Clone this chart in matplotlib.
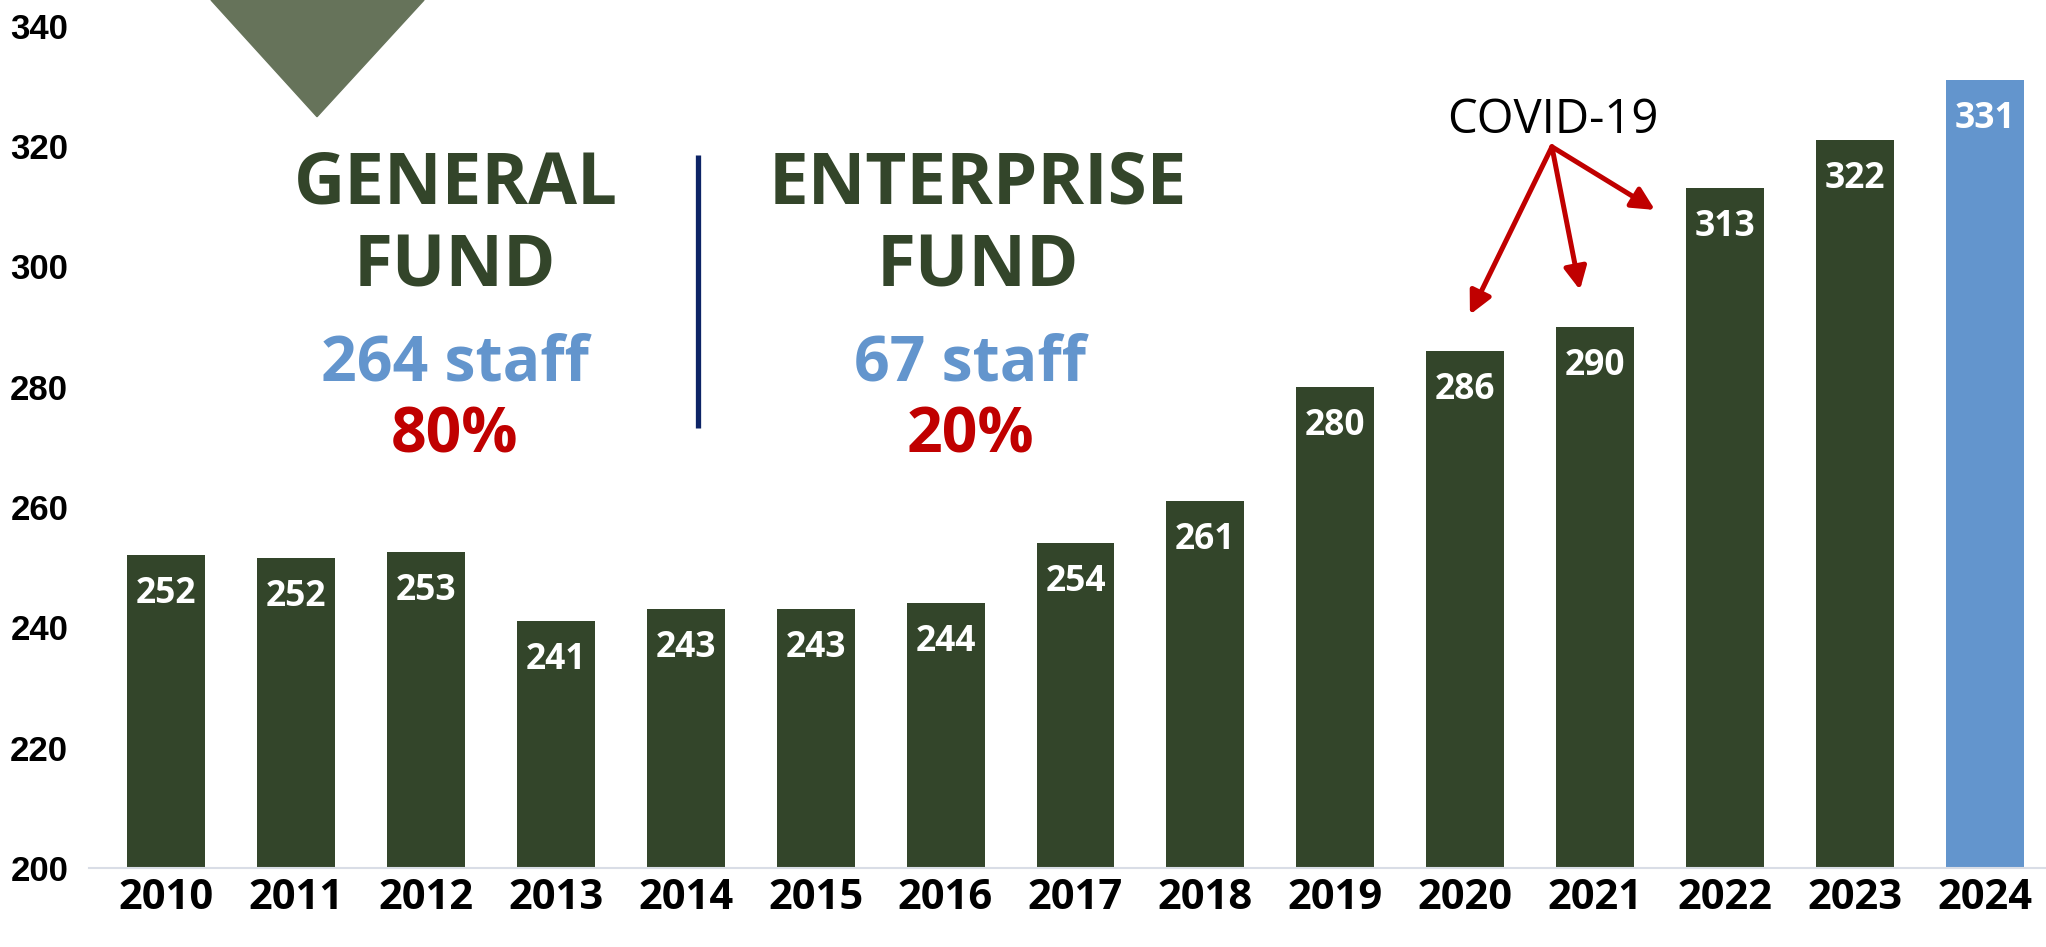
import matplotlib.pyplot as plt
from matplotlib.patches import Polygon

years = ['2010', '2011', '2012', '2013', '2014', '2015', '2016', '2017',
         '2018', '2019', '2020', '2021', '2022', '2023', '2024']
staff = [252, 251.5, 252.5, 241, 243, 243, 244, 254, 261, 280, 286, 290, 313, 321, 331]
labels = ['252', '252', '253', '241', '243', '243', '244', '254', '261',
          '280', '286', '290', '313', '322', '331']

green = '#33452a'
blue = '#6395cd'
red = '#c00000'

fig = plt.figure(figsize=(20.46, 9.47), dpi=100)
ax = fig.add_axes([0.0435, 0.0834, 0.9565, 0.9166])

x = list(range(len(years)))
colors = [green] * (len(years) - 1) + [blue]
ax.bar(x, [v - 200 for v in staff], bottom=200, width=0.6, color=colors)

for i, v in enumerate(staff):
    ax.annotate(labels[i], (i, v), xytext=(0, -48), textcoords='offset pixels',
                ha='center', va='baseline', color='white', fontsize=25.5,
                fontweight='bold', family=['Open Sans', 'DejaVu Sans'])

ax.set_xlim(-0.593, 14.47)
ax.set_ylim(200, 344.3)
ax.set_yticks([200, 220, 240, 260, 280, 300, 320, 340])
ax.set_xticks(x)
ax.set_xticklabels(years, fontsize=30, fontweight='bold', family=['Open Sans', 'DejaVu Sans'])
for t in ax.get_yticklabels():
    t.set_fontsize(25)
    t.set_fontweight('bold')
    t.set_family(['Liberation Sans', 'DejaVu Sans'])
ax.tick_params(axis='y', length=0, pad=15)
ax.tick_params(axis='x', length=0, pad=7)
for s in ['top', 'right', 'left']:
    ax.spines[s].set_visible(False)
ax.spines['bottom'].set_color('#d9dde6')
ax.spines['bottom'].set_linewidth(1.5)

# triangle decoration at top
tri = Polygon([(0.346, 344.3), (1.986, 344.3), (1.162, 324.9)], closed=True,
              color='#66735a', clip_on=False)
ax.add_patch(tri)

font = ['Open Sans', 'DejaVu Sans']
ax.text(2.232, 310.4, 'GENERAL', ha='center', va='baseline', fontsize=51,
        fontweight='bold', color=green, family=font)
ax.text(2.22, 296.6, 'FUND', ha='center', va='baseline', fontsize=51,
        fontweight='bold', color=green, family=font)
ax.text(2.22, 281.1, '264 staff', ha='center', va='baseline', fontsize=45,
        fontweight='bold', color=blue, family=font)
ax.text(2.22, 269.0, '80%', ha='center', va='baseline', fontsize=45,
        fontweight='bold', color=red, family=font)

ax.text(6.25, 310.4, 'ENTERPRISE', ha='center', va='baseline', fontsize=51,
        fontweight='bold', color=green, family=font)
ax.text(6.25, 296.6, 'FUND', ha='center', va='baseline', fontsize=51,
        fontweight='bold', color=green, family=font)
ax.text(6.19, 281.1, '67 staff', ha='center', va='baseline', fontsize=45,
        fontweight='bold', color=blue, family=font)
ax.text(6.19, 269.0, '20%', ha='center', va='baseline', fontsize=45,
        fontweight='bold', color=red, family=font)

# divider
ax.plot([4.095, 4.095], [273.1, 318.6], color='#0d2466', lw=3.8, solid_capstyle='butt')

# COVID annotation
ax.text(10.675, 322.2, 'COVID-19', ha='center', va='baseline', fontsize=34,
        color='black', family=font)
ends = [(10.036, 292.0), (10.883, 296.1), (11.46, 309.4)]
for e in ends:
    ax.annotate('', xy=e, xytext=(10.667, 319.9),
                arrowprops=dict(arrowstyle='-|>', color=red, lw=3.6,
                                mutation_scale=34, shrinkA=0, shrinkB=0))

fig.savefig('out.png', dpi=100)
